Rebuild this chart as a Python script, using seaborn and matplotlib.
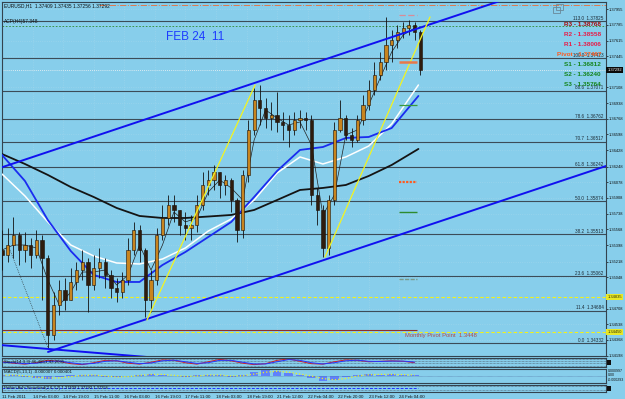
import matplotlib
matplotlib.use("Agg")
import matplotlib.pyplot as plt
import seaborn as sns
from matplotlib.patches import Rectangle
from matplotlib.transforms import blended_transform_factory

# ------------------------------------------------------------------ data
candle_hours = list(range(0, 220, 3))
first_open = 1.35344
closes = [1.35290, 1.35398, 1.35507, 1.35344, 1.35398, 1.35290, 1.35452, 1.35258, 1.34422, 1.34747,
          1.34910, 1.34802, 1.34997, 1.35127, 1.35214, 1.34964, 1.35149, 1.35214, 1.35073, 1.34932,
          1.34888, 1.35019, 1.35344, 1.35561, 1.35344, 1.34802, 1.35019, 1.35507, 1.35691, 1.35832,
          1.35778, 1.35615, 1.35583, 1.35615, 1.35832, 1.36049, 1.36103, 1.36190, 1.36049, 1.36103,
          1.35886, 1.35561, 1.36158, 1.36646, 1.36971, 1.36884, 1.36776, 1.36808, 1.36733, 1.36700,
          1.36646, 1.36754, 1.36776, 1.36754, 1.35941, 1.35778, 1.35366, 1.35886, 1.36646, 1.36776,
          1.36592, 1.36537, 1.36754, 1.36917, 1.37080, 1.37242, 1.37383, 1.37568, 1.37622, 1.37709,
          1.37752, 1.37785, 1.37709, 1.37292]
highs = [1.35561, 1.35583, 1.35702, 1.35539, 1.35539, 1.35474, 1.35561, 1.35507, 1.35290, 1.34888,
         1.35019, 1.35040, 1.35149, 1.35214, 1.35344, 1.35258, 1.35290, 1.35366, 1.35258, 1.35127,
         1.35040, 1.35105, 1.35474, 1.35648, 1.35615, 1.35366, 1.35127, 1.35583, 1.35832, 1.35941,
         1.35941, 1.35778, 1.35756, 1.35724, 1.35941, 1.36190, 1.36212, 1.36266, 1.36190, 1.36158,
         1.36125, 1.35908, 1.36212, 1.36754, 1.37101, 1.37134, 1.36993, 1.36949, 1.37058, 1.36841,
         1.36808, 1.36841, 1.36863, 1.36841, 1.36808, 1.36017, 1.35832, 1.35941, 1.36733, 1.36971,
         1.36808, 1.36667, 1.36808, 1.37025, 1.37188, 1.37383, 1.37492, 1.37872, 1.37731, 1.37785,
         1.37817, 1.37839, 1.37817, 1.37731]
lows = [1.35127, 1.35214, 1.35258, 1.35181, 1.35214, 1.35149, 1.35258, 1.34802, 1.34281, 1.34368,
        1.34639, 1.34693, 1.34802, 1.34910, 1.35019, 1.34672, 1.34910, 1.35040, 1.34932, 1.34823,
        1.34780, 1.34823, 1.34964, 1.35290, 1.35214, 1.34617, 1.34672, 1.34964, 1.35452, 1.35615,
        1.35648, 1.35507, 1.35452, 1.35452, 1.35539, 1.35778, 1.35941, 1.35995, 1.35908, 1.35941,
        1.35756, 1.35431, 1.35474, 1.36082, 1.36592, 1.36700, 1.36667, 1.36646, 1.36624, 1.36537,
        1.36461, 1.36592, 1.36667, 1.36646, 1.35832, 1.35615, 1.35268, 1.35290, 1.35832, 1.36624,
        1.36537, 1.36461, 1.36516, 1.36700, 1.36863, 1.37025, 1.37188, 1.37297, 1.37383, 1.37535,
        1.37644, 1.37676, 1.37622, 1.37242]

ma_hours = [0, 12, 24, 36, 48, 60, 72, 84, 96, 108, 120, 132, 144, 156, 168, 180, 192, 204, 218]
ma_black = [1.36385, 1.36277, 1.36158, 1.36027, 1.35919, 1.35800, 1.35713, 1.35691, 1.35691, 1.35707,
            1.35724, 1.35778, 1.35886, 1.35995, 1.36017, 1.36049, 1.36147, 1.36266, 1.36440]
ma_white = [1.36168, 1.35930, 1.35648, 1.35398, 1.35279, 1.35203, 1.35192, 1.35246, 1.35366, 1.35550,
            1.35680, 1.35886, 1.36179, 1.36353, 1.36277, 1.36353, 1.36472, 1.36711, 1.37134]
ma_blue = [1.36375, 1.36093, 1.35669, 1.35333, 1.35073, 1.34997, 1.34997, 1.35181, 1.35322, 1.35485,
           1.35648, 1.35919, 1.36201, 1.36429, 1.36461, 1.36559, 1.36570, 1.36667, 1.37015]

fast_hours = list(range(0, 217, 6))
fast_ma = [1.35344, 1.35398, 1.35398, 1.35366, 1.35019, 1.34747, 1.34888, 1.35105, 1.35105, 1.35127,
           1.34964, 1.35073, 1.35398, 1.35127, 1.35398, 1.35756, 1.35648, 1.35691, 1.35973, 1.36103,
           1.36017, 1.35886, 1.36537, 1.36863, 1.36776, 1.36700, 1.36733, 1.36483, 1.35724, 1.35941,
           1.36592, 1.36646, 1.36917, 1.37210, 1.37492, 1.37676, 1.37752]

upper_channel_h = [-1.05, 262.3]
upper_channel_p = [1.36234, 1.38056]
lower_channel_h = [24.1, 316.2]
lower_channel_p = [1.34238, 1.36255]
bottom_line_h = [-1.05, 89.0]
bottom_line_p = [1.34313, 1.34161]
yellow1_h = [75.9, 132.5]
yellow1_p = [1.34585, 1.37134]
yellow2_h = [169.1, 224.1]
yellow2_p = [1.35268, 1.37872]
zigzag_h = [4.2, 24.1]
zigzag_p = [1.35344, 1.34281]

fib_levels = ["0.0", "11.4", "23.6", "38.2", "50.0", "61.8", "70.7", "78.6", "88.6", "100.0", "113.0"]
fib_prices = [1.34332, 1.34684, 1.35062, 1.35513, 1.35874, 1.36242, 1.36517, 1.36762, 1.37071, 1.37423, 1.37825]

pivot_names = ["R3", "R2", "R1", "Pivot", "S1", "S2", "S3"]
pivot_values = ["1.38768", "1.38558", "1.38006", "1.37467", "1.36812", "1.36240", "1.35764"]
segment_prices = [1.37893, 1.37383, 1.36917, 1.36082, 1.35756, 1.35030]

bid_price = 1.37292
monthly_pivot = 1.3448
yellow_levels = [1.34835, 1.34450]
green_level = 1.37774
orange_level = 1.38002

price_ticks = ["1.37955", "1.37785", "1.37615", "1.37445", "1.37108", "1.36938", "1.36768", "1.36598",
               "1.36428", "1.36248", "1.36078", "1.35908", "1.35738", "1.35568", "1.35398", "1.35218",
               "1.35048", "1.34708", "1.34538", "1.34368", "1.34198"]
time_labels = ["11 Feb 2011", "14 Feb 03:00", "14 Feb 19:00", "15 Feb 11:00", "16 Feb 03:00",
               "16 Feb 19:00", "17 Feb 11:00", "18 Feb 03:00", "18 Feb 19:00", "21 Feb 12:00",
               "22 Feb 04:00", "22 Feb 20:00", "23 Feb 12:00", "24 Feb 04:00"]
time_hours = list(range(0, 209, 16))

osc_hours = list(range(0, 217, 6))
osc_red = [55, 40, 30, 45, 70, 60, 35, 25, 45, 70, 65, 40, 30, 50, 75, 70, 45, 30, 55, 80,
           65, 40, 25, 35, 70, 85, 60, 35, 30, 55, 75, 70, 55, 60, 65, 60, 45]
osc_blue = [50, 45, 35, 40, 60, 62, 45, 30, 38, 60, 66, 50, 35, 42, 65, 72, 55, 38, 45, 70,
            70, 50, 32, 32, 55, 78, 70, 45, 32, 45, 65, 72, 60, 58, 62, 62, 52]
macd_hist = [0.0002, 0.0001, -0.0001, -0.0003, -0.0004, -0.0002, 0.0001, 0.0002, 0.0001, -0.0001,
             -0.0002, 0.0, 0.0002, 0.0003, 0.0002, 0.0, -0.0001, 0.0001, 0.0002, 0.0001,
             -0.0001, 0.0002, 0.0006, 0.0009, 0.0008, 0.0004, 0.0001, -0.0003, -0.0008, -0.0007,
             -0.0002, 0.0002, 0.0003, 0.0002, 0.0003, 0.0002, 0.0001]
macd_signal = [0.0001, 0.00015, 0.0, -0.0002, -0.0003, -0.0003, -0.0001, 0.0001, 0.00015, 0.0,
               -0.00015, -0.0001, 0.0001, 0.00025, 0.00025, 0.0001, -0.00005, 0.0, 0.00015, 0.00015,
               0.0, 0.00005, 0.0003, 0.0006, 0.00075, 0.0006, 0.0003, 0.0, -0.0004, -0.0006,
               -0.0004, 0.0, 0.0002, 0.00025, 0.00025, 0.0002, 0.00015]

# ------------------------------------------------------------------ style
sns.set_theme(style="white")
plt.rcParams['font.family'] = ['Liberation Sans', 'DejaVu Sans']
SKY = '#87ceeb'
FRAME = '#33434f'

W, H = 625, 399
fig = plt.figure(figsize=(W / 100, H / 100), dpi=100)
fig.patch.set_facecolor(SKY)

XMAX = 316.2


def frame(a):
    a.set_facecolor(SKY)
    for s in a.spines.values():
        s.set_color(FRAME)
        s.set_linewidth(0.8)
    a.set_xlim(0, XMAX)


ax = fig.add_axes([2 / W, 1 - 356 / H, 604 / W, 354 / H])
frame(ax)
ax.set_ylim(1.34194, 1.38034)

tick_vals = [float(t) for t in price_ticks]
ax.yaxis.tick_right()
ax.set_yticks(tick_vals)
ax.set_yticklabels(price_ticks, fontsize=2.9, color='#101010')
ax.tick_params(axis='y', length=1.5, width=0.5, pad=0.6, colors='#101010')
ax.set_xticks([])

# faint dotted grid
for t in tick_vals:
    ax.axhline(t, color='#b4dcec', lw=0.4, ls=(0, (1, 3)), zorder=0)
for t in time_hours:
    ax.axvline(t, color='#b4dcec', lw=0.4, ls=(0, (1, 3)), zorder=0)

# fibonacci levels
for lvl, p in zip(fib_levels, fib_prices):
    ax.axhline(p, color='#3c4c58', lw=0.8, zorder=1)
    ax.text(315.0, p + 0.00005, f"{lvl}  {p:.5f}", fontsize=3.3, color='#1c2a34',
            ha='right', va='bottom', zorder=6)

# other horizontal levels
ax.hlines(orange_level, 51, XMAX, color='#e0784a', lw=0.7, ls='-.', zorder=1)
ax.axhline(green_level, color='#2e8b2e', lw=0.6, ls=(0, (2, 2)), zorder=1)
ax.axhline(bid_price, color='#f4f4f4', lw=0.6, ls=(0, (1, 1.5)), zorder=1)
for yl in yellow_levels:
    ax.axhline(yl, color='#f2f21a', lw=0.8, ls=(0, (3, 2)), zorder=1)
ax.hlines(monthly_pivot, 0, 217, color='#8b3030', lw=0.8, zorder=1)

# moving averages
sns.lineplot(x=ma_hours, y=ma_black, ax=ax, color='#141414', lw=1.3, estimator=None, sort=False, zorder=3)
sns.lineplot(x=ma_hours, y=ma_white, ax=ax, color='#ffffff', lw=1.1, estimator=None, sort=False, zorder=3)
sns.lineplot(x=ma_hours, y=ma_blue, ax=ax, color='#1a2cf0', lw=1.3, estimator=None, sort=False, zorder=3)
sns.lineplot(x=fast_hours, y=fast_ma, ax=ax, color='#202020', lw=0.5, estimator=None, sort=False, zorder=4)

# candles
opens = [first_open] + closes[:-1]
bull_c, bear_c = '#c8841e', '#2e1c0e'
for h, o, c, hi, lo in zip(candle_hours, opens, closes, highs, lows):
    ax.vlines(h, lo, hi, color='#111111', lw=0.6, zorder=5)
    bottom = min(o, c)
    height = max(abs(c - o), 0.00004)
    ax.add_patch(Rectangle((h - 0.85, bottom), 1.7, height,
                           facecolor=bull_c if c >= o else bear_c,
                           edgecolor='#1a1008', lw=0.4, zorder=5))

# trend lines
sns.lineplot(x=upper_channel_h, y=upper_channel_p, ax=ax, color='#1010f0', lw=1.4, estimator=None, sort=False, zorder=6)
sns.lineplot(x=lower_channel_h, y=lower_channel_p, ax=ax, color='#1010f0', lw=1.4, estimator=None, sort=False, zorder=6)
sns.lineplot(x=bottom_line_h, y=bottom_line_p, ax=ax, color='#1010f0', lw=1.4, estimator=None, sort=False, zorder=6)
sns.lineplot(x=yellow1_h, y=yellow1_p, ax=ax, color='#f4f41e', lw=0.9, estimator=None, sort=False, zorder=6)
sns.lineplot(x=yellow2_h, y=yellow2_p, ax=ax, color='#f4f41e', lw=0.9, estimator=None, sort=False, zorder=6)
ax.plot(zigzag_h, zigzag_p, color='#202020', lw=0.5, ls=':', zorder=4)

# short pivot segments
seg_styles = [('#d88c98', (0, (5, 2)), 0.9), ('#e8784a', '-', 1.8), ('#3a9a3a', '-', 0.9),
              ('#ff5a1e', (0, (1, 0.6)), 1.6), ('#2e8b2e', '-', 1.0), ('#7a9a8a', (0, (3, 1)), 1.0)]
for p, (col, ls, lw) in zip(segment_prices, seg_styles):
    ax.hlines(p, 208, 217, color=col, ls=ls, lw=lw, zorder=6)

# pivot labels
piv_cols = ['#a80c0c', '#e81c48', '#e81c48', '#ff5a1e', '#14841a', '#14841a', '#14841a']
for k, (n, v, col) in enumerate(zip(pivot_names, pivot_values, piv_cols)):
    ypx = 25 + 10 * k
    ax.text((601 - 2) / 604, 1 - (ypx - 2) / 354, f"{n} - {v}", transform=ax.transAxes,
            fontsize=4.6, fontweight='bold', color=col, ha='right', va='center', zorder=8)

# texts
ax.text(0.003, 0.997, "EURUSD,H1  1.37409 1.37435 1.37256 1.37292", transform=ax.transAxes,
        fontsize=3.5, color='#101010', ha='left', va='top', zorder=8)
ax.text(0.003, 1 - 20 / 354, "ACP(H4)57.348", transform=ax.transAxes,
        fontsize=3.5, color='#101010', ha='left', va='center', zorder=8)
ax.text((166 - 2) / 604, 1 - (37 - 2) / 354, "FEB 24  11", transform=ax.transAxes,
        fontsize=8.5, color='#1e3cff', ha='left', va='center', zorder=8)
ax.text((405 - 2) / 604, 1 - (335 - 2) / 354, "Monthly Pivot Point  1.3448", transform=ax.transAxes,
        fontsize=4.2, color='#b04a4a', ha='left', va='center', zorder=8)

# right axis boxes
tr = blended_transform_factory(ax.transAxes, ax.transData)
ax.text(1.002, bid_price, "1.37292", transform=tr, fontsize=2.9, color='white', ha='left', va='center',
        bbox=dict(boxstyle='square,pad=0.25', fc='#0a0a0a', ec='none'), zorder=9, clip_on=False)
for yl in yellow_levels:
    ax.text(1.002, yl, f"{yl:.5f}", transform=tr, fontsize=2.9, color='#303000', ha='left', va='center',
            bbox=dict(boxstyle='square,pad=0.25', fc='#e8e828', ec='none'), zorder=9, clip_on=False)

# icon top right
fig.add_artist(Rectangle((553 / W, 1 - 13 / H), 7 / W, 6 / H, fill=False, ec='#6a8898', lw=0.6,
                         transform=fig.transFigure))
fig.add_artist(Rectangle((556 / W, 1 - 10 / H), 7 / W, 6 / H, fill=False, ec='#6a8898', lw=0.6,
                         transform=fig.transFigure))

# ------------------------------------------------------------------ window 1 (oscillator)
w1 = fig.add_axes([2 / W, 1 - 367 / H, 604 / W, 9.5 / H])
frame(w1)
w1.set_ylim(0, 100)
w1.set_xticks([]); w1.set_yticks([])
for yv in (12, 37, 62, 88):
    w1.axhline(yv, color='#4a5c6c', lw=0.5, ls=(0, (1, 1)), zorder=0)
sns.lineplot(x=osc_hours, y=osc_red, ax=w1, color='#d42020', lw=0.7, estimator=None, sort=False)
sns.lineplot(x=osc_hours, y=osc_blue, ax=w1, color='#2438ff', lw=0.7, estimator=None, sort=False)
w1.text(0.003, 0.5, "Stoch(14,3,3) 46.4851 43.2095", transform=w1.transAxes, fontsize=3.2,
        color='#101010', va='center', ha='left')

# ------------------------------------------------------------------ window 2 (MACD)
w2 = fig.add_axes([2 / W, 1 - 383 / H, 604 / W, 14 / H])
frame(w2)
w2.set_ylim(-0.0011, 0.0011)
w2.set_xticks([]); w2.set_yticks([])
w2.axhline(0, color='#5070a0', lw=0.4, ls=(0, (1, 1)))
w2.bar(osc_hours, macd_hist, width=4.5, color='#5a74ff', edgecolor='none', alpha=0.85)
sns.lineplot(x=osc_hours, y=macd_signal, ax=w2, color='#f0f020', lw=0.9, ls=':', estimator=None, sort=False)
w2.text(0.003, 0.78, "MACD(5,13,1) -0.000007 0.000401", transform=w2.transAxes, fontsize=3.2,
        color='#101010', va='center', ha='left')
for txt, ypx in (("0.000997", 371), ("0.00", 375.5), ("-0.000293", 380)):
    fig.text(607.5 / W, 1 - ypx / H, txt, fontsize=2.6, color='#101010', ha='left', va='center')

# ------------------------------------------------------------------ window 3
w3 = fig.add_axes([2 / W, 1 - 391.5 / H, 604 / W, 7 / H])
frame(w3)
w3.set_ylim(0, 1)
w3.set_yticks([])
for yv in (0.2, 0.8):
    w3.axhline(yv, color='#4a5c6c', lw=0.5, ls=(0, (1, 1)), zorder=0)
w3.hlines(0.5, 0, 218, color='#2030ff', lw=0.7, ls=(0, (3, 1.5)))
w3.text(0.003, 0.55, "Heiken Ashi Smoothed(2,6,3,2) 1.37409 1.37292 1.37256", transform=w3.transAxes,
        fontsize=3.0, color='#101010', va='center', ha='left')
w3.set_xticks(time_hours)
w3.set_xticklabels(time_labels, fontsize=3.2, color='#101010', ha='left')
w3.tick_params(axis='x', length=1.5, width=0.5, pad=0.8, colors='#101010')

# little black markers right of sub-windows
for ypx in (362, 388):
    fig.add_artist(Rectangle((607 / W, 1 - (ypx + 2.5) / H), 4 / W, 5 / H, fc='#101010', ec='none',
                             transform=fig.transFigure))

fig.savefig("out.png", dpi=100, facecolor=SKY)
